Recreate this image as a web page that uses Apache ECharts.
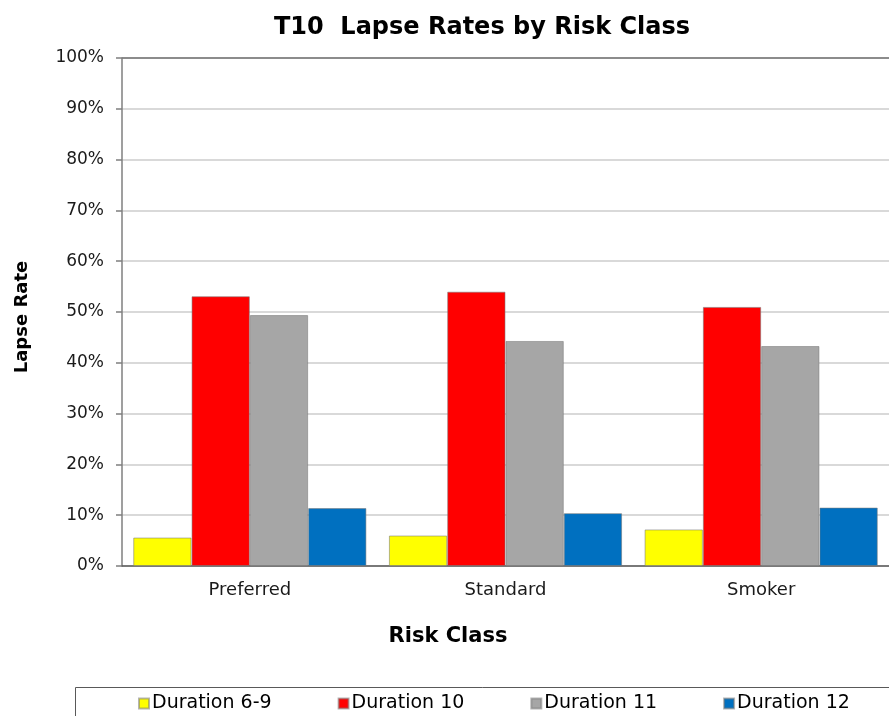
<!DOCTYPE html>
<html>
<head>
<meta charset="utf-8">
<title>T10 Lapse Rates by Risk Class</title>
<script src="https://cdn.jsdelivr.net/npm/echarts@6/dist/echarts.min.js"></script>
<style>
  html, body { margin: 0; padding: 0; background: #fff; }
  #chart { width: 889px; height: 716px; }
</style>
</head>
<body>
<div id="chart"></div>
<script>
// Risk classes on the category axis
const riskClasses = ['Preferred', 'Standard', 'Smoker'];

// Lapse rates (%) per policy duration
const duration6to9 = [5.6, 6.0, 7.2];
const duration10 = [53.1, 54.0, 51.0];
const duration11 = [49.4, 44.3, 43.3];
const duration12 = [11.4, 10.4, 11.5];

// Value axis ticks (%)
const yTicks = [0, 10, 20, 30, 40, 50, 60, 70, 80, 90, 100];

const FONT = 'DejaVu Sans';

const seriesDefs = [
  { name: 'Duration 6-9', data: duration6to9, color: '#FFFF00' },
  { name: 'Duration 10', data: duration10, color: '#FF0000' },
  { name: 'Duration 11', data: duration11, color: '#A6A6A6' },
  { name: 'Duration 12', data: duration12, color: '#0070C0' }
];

const gridColors = yTicks.map((t, i) => (i === yTicks.length - 1 ? '#8c8c8c' : '#d9d9d9'));

const chart = echarts.init(document.getElementById('chart'), null, { renderer: 'canvas' });

chart.setOption({
  backgroundColor: '#ffffff',
  animation: false,
  textStyle: { fontFamily: FONT },
  title: [
    {
      text: 'T10  Lapse Rates by Risk Class',
      left: 477,
      top: 11,
      textAlign: 'center',
      textStyle: { fontFamily: FONT, fontSize: 24, fontWeight: 'bold', color: '#000' }
    },
    {
      text: 'Risk Class',
      left: 443,
      top: 621,
      textAlign: 'center',
      textStyle: { fontFamily: FONT, fontSize: 21, fontWeight: 'bold', color: '#000' }
    }
  ],
  graphic: [
    {
      type: 'text',
      x: 22,
      y: 317,
      rotation: Math.PI / 2,
      style: {
        text: 'Lapse Rate',
        fontFamily: FONT,
        fontSize: 18,
        fontWeight: 'bold',
        fill: '#000',
        align: 'center',
        verticalAlign: 'middle'
      }
    },
    {
      type: 'rect',
      shape: { x: 75.5, y: 687.5, width: 900, height: 100 },
      style: { fill: 'none', stroke: '#595959', lineWidth: 1 },
      z: -1
    }
  ],
  legend: {
    left: 133,
    top: 689,
    itemWidth: 10,
    itemHeight: 10,
    itemGap: 66,
    icon: 'rect',
    textStyle: { fontFamily: FONT, fontSize: 19, color: '#000', padding: [0, 0, 0, -2] },
    data: seriesDefs.map(s => s.name)
  },
  grid: {
    left: 122,
    top: 58,
    width: 771,
    bottom: 150,
    containLabel: false
  },
  xAxis: {
    type: 'category',
    data: riskClasses,
    axisLine: { show: true, lineStyle: { color: '#595959', width: 1.5 } },
    axisTick: { show: false },
    axisLabel: { fontFamily: FONT, fontSize: 18, color: '#1a1a1a', margin: 15 },
    splitLine: { show: false }
  },
  yAxis: {
    type: 'value',
    min: 0,
    max: 100,
    interval: 10,
    axisLine: { show: true, lineStyle: { color: '#7f7f7f', width: 1.5 } },
    axisTick: { show: true, length: 6, lineStyle: { color: '#7f7f7f', width: 1.5 } },
    axisLabel: {
      fontFamily: FONT,
      fontSize: 17,
      color: '#1a1a1a',
      margin: 18,
      formatter: v => v + '%'
    },
    splitLine: { show: true, lineStyle: { color: gridColors, width: 2 } }
  },
  series: seriesDefs.map(s => ({
    name: s.name,
    type: 'bar',
    data: s.data,
    barGap: '0%',
    barCategoryGap: '8.8%',
    itemStyle: {
      color: s.color,
      borderColor: 'rgba(120,120,120,0.55)',
      borderWidth: 1
    }
  }))
});
</script>
</body>
</html>
